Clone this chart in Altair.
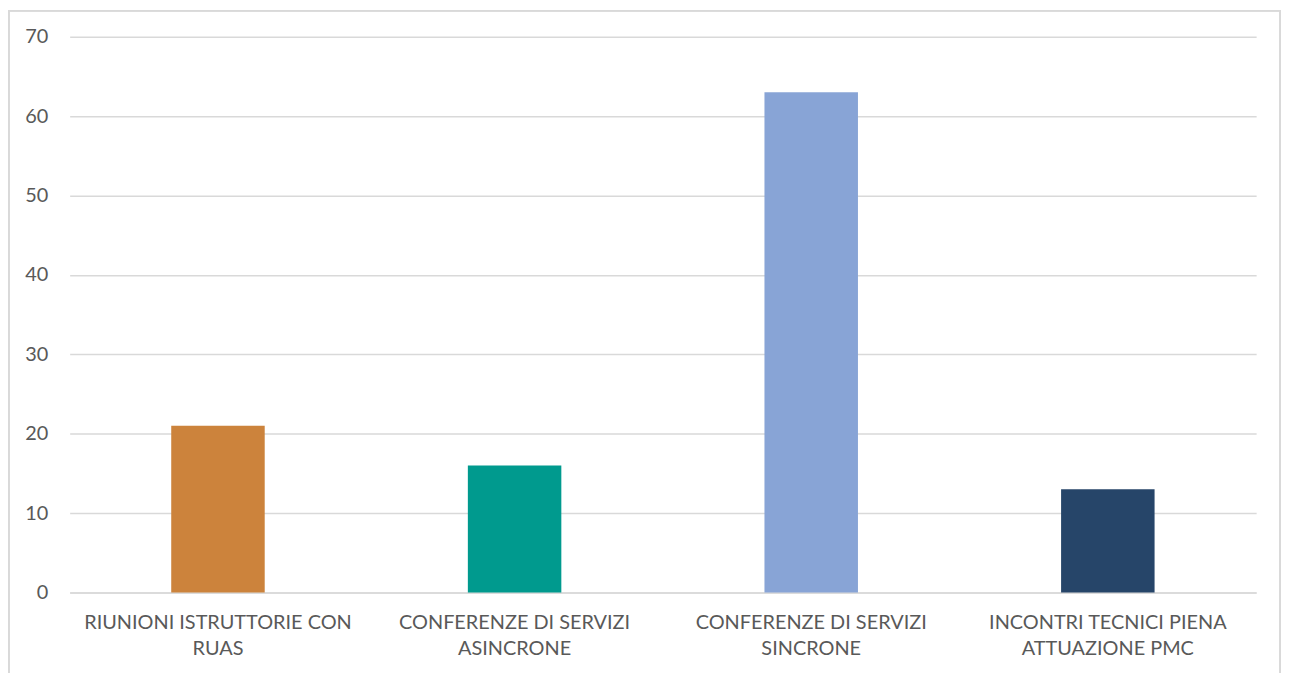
import altair as alt
import pandas as pd

categories = ["RIUNIONI ISTRUTTORIE CON|RUAS", "CONFERENZE DI SERVIZI|ASINCRONE",
              "CONFERENZE DI SERVIZI|SINCRONE", "INCONTRI TECNICI PIENA|ATTUAZIONE PMC"]
values = [21, 16, 63, 13]
colors = ["#CC833C", "#009A8E", "#88A4D6", "#264569"]

df = pd.DataFrame({"cat": categories, "val": values, "color": colors})

FONT = "Lato"
W, H = 1193, 559

bars = alt.Chart(df).mark_bar(size=94).encode(
    x=alt.X("cat:N", sort=categories, title=None,
            axis=alt.Axis(labelExpr="split(datum.label, '|')", labelAngle=0,
                          labelFont=FONT, labelFontSize=20, labelColor="#595959",
                          labelPadding=20, labelLineHeight=26, ticks=False,
                          domainColor="#D9D9D9", domainWidth=1.5, labelLimit=400)),
    y=alt.Y("val:Q", scale=alt.Scale(domain=[0, 70]), title=None,
            axis=alt.Axis(values=[0, 10, 20, 30, 40, 50, 60, 70], domain=False, ticks=False,
                          gridColor="#D9D9D9", gridWidth=1.5, labelFont=FONT,
                          labelFontSize=20, labelColor="#595959", labelPadding=22)),
    color=alt.Color("color:N", scale=None),
)

border = alt.Chart(df).mark_rect(fill=None, stroke="#D9D9D9", strokeWidth=1.5).encode(
    x=alt.value(-61), x2=alt.value(W + 24),
    y=alt.value(-26), y2=alt.value(H + 200),
)

chart = alt.layer(border, bars).properties(
    width=W, height=H,
    autosize=alt.AutoSizeParams(type="none"),
    padding={"left": 62, "top": 27, "right": 26, "bottom": 79},
).configure_view(stroke=None)

chart.save("out.html", embed_options={"renderer": "svg", "actions": False})
